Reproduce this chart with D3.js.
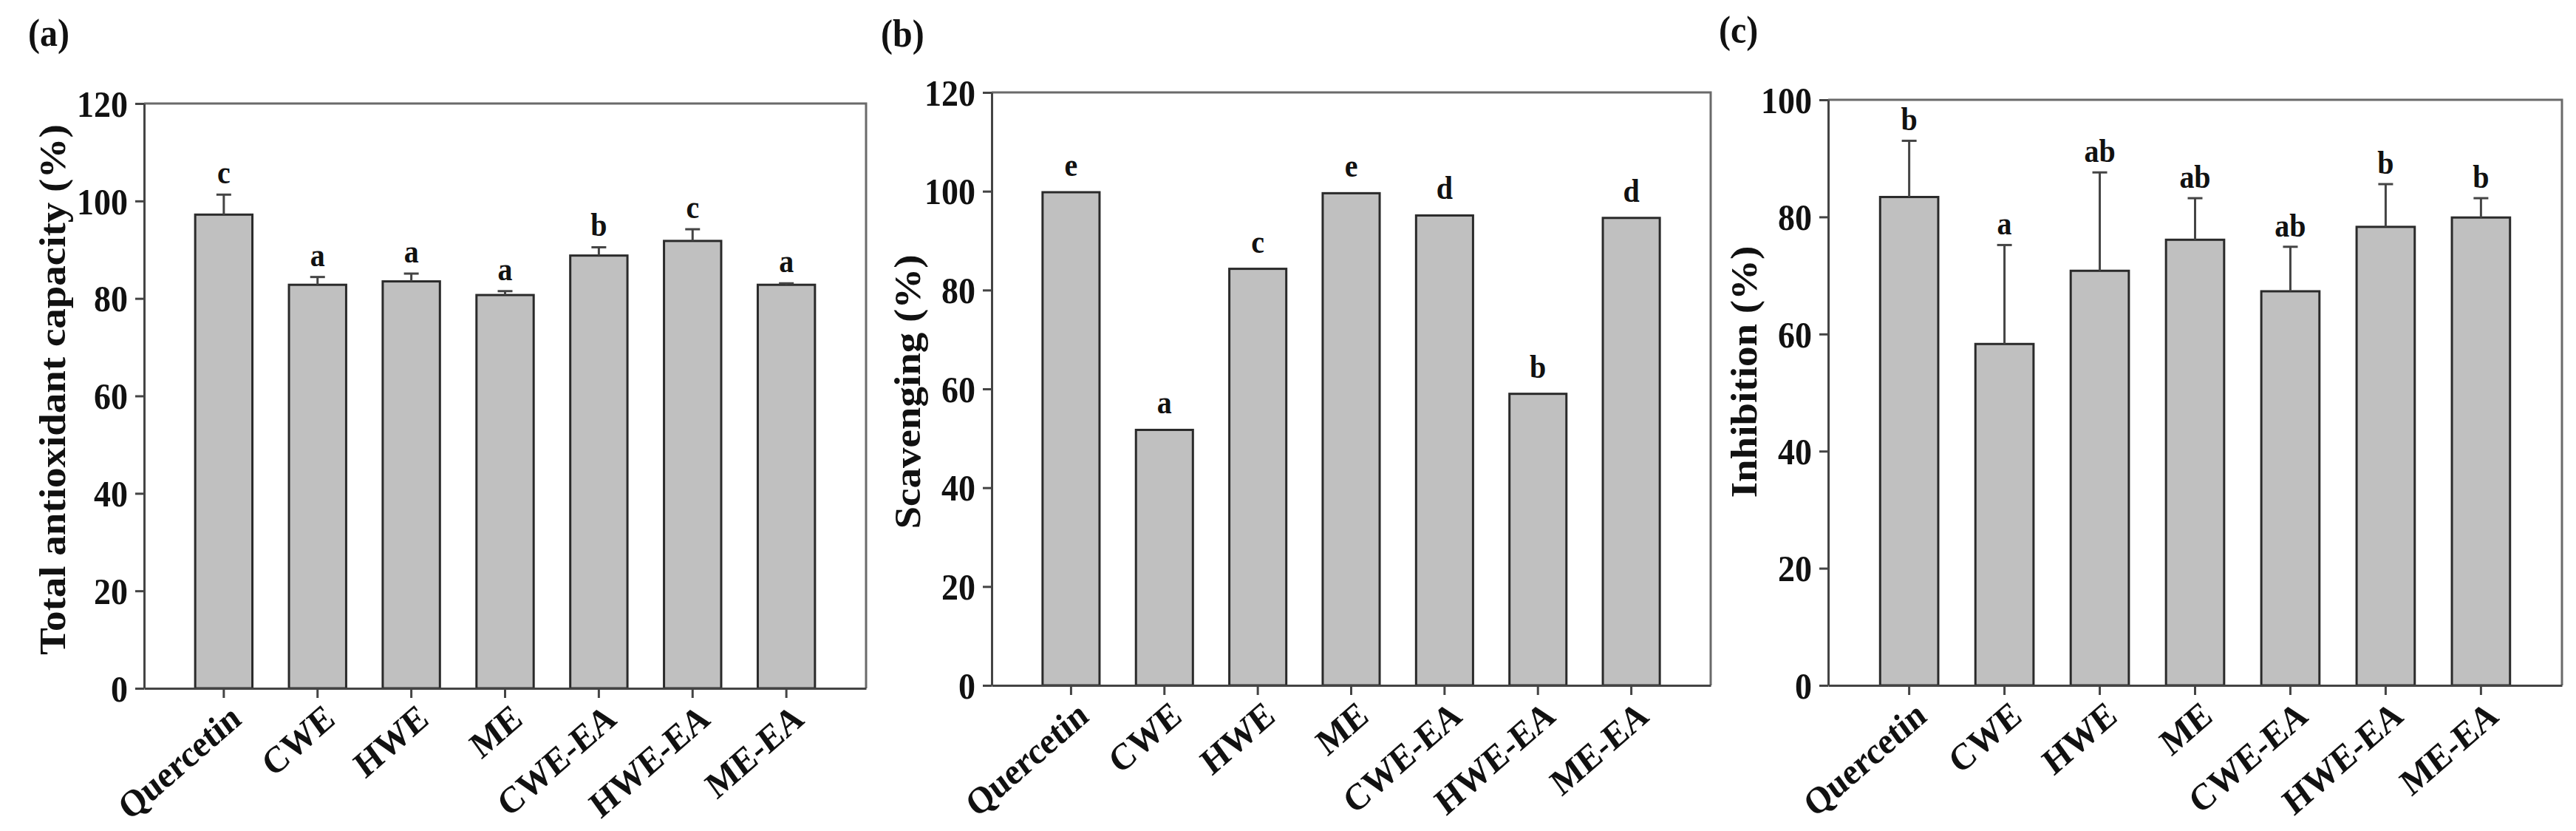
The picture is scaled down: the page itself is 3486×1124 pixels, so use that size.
<!DOCTYPE html>
<html>
<head>
<meta charset="utf-8">
<script src="https://cdn.jsdelivr.net/npm/d3@7"></script>
<style>
    body { margin: 0; background: #fff; }
    text { font-family: "Liberation Serif", "Times New Roman", serif; font-weight: bold; fill: #111; }
</style>
</head>
<body>
<div id="chart"></div>
<script>
// categories shared by all three panels
var categories = ["Quercetin", "CWE", "HWE", "ME", "CWE-EA", "HWE-EA", "ME-EA"];

// (a) total antioxidant capacity
var tacValues = [97.2, 82.8, 83.5, 80.7, 88.8, 91.8, 82.8];
var tacErrors = [4.1, 1.6, 1.6, 0.8, 1.7, 2.4, 0.3];
var tacLetters = ["c", "a", "a", "a", "b", "c", "a"];
var tacTicks = [0, 20, 40, 60, 80, 100, 120];

// (b) scavenging
var scavValues = [99.8, 51.7, 84.3, 99.6, 95.1, 59.0, 94.6];
var scavErrors = [0, 0, 0, 0, 0, 0, 0];
var scavLetters = ["e", "a", "c", "e", "d", "b", "d"];
var scavTicks = [0, 20, 40, 60, 80, 100, 120];

// (c) inhibition
var inhibValues = [83.4, 58.3, 70.8, 76.1, 67.3, 78.3, 79.9];
var inhibErrors = [9.6, 16.9, 16.8, 7.1, 7.6, 7.3, 3.3];
var inhibLetters = ["b", "a", "ab", "ab", "ab", "b", "b"];
var inhibTicks = [0, 20, 40, 60, 80, 100];

var svg = d3.select("#chart")
    .append("svg")
    .attr("width", 3486)
    .attr("height", 1124);

/**
 * render one bar panel with error bars and significance letters
 */
function renderPanel(cfg) {
    var data = categories.map(function (c, i) {
        return {name: c, value: cfg.values[i], err: cfg.errors[i], letter: cfg.letters[i]};
    });

    var x = d3.scaleBand()
        .domain(categories)
        .range([cfg.left, cfg.right])
        .paddingInner(0.39)
        .paddingOuter(0.545);

    var y = d3.scaleLinear()
        .domain([0, d3.max(cfg.ticks)])
        .range([cfg.bottom, cfg.top]);

    var g = svg.append("g");

    // top and right frame
    g.append("path")
        .attr("d", "M" + cfg.left + "," + cfg.top + "H" + cfg.right + "V" + cfg.bottom)
        .attr("fill", "none")
        .attr("stroke", "#6a6a6a")
        .attr("stroke-width", 3);

    // bars
    g.selectAll(".bar")
        .data(data)
        .enter().append("rect")
        .attr("class", "bar")
        .attr("x", function (d) { return x(d.name); })
        .attr("y", function (d) { return y(d.value); })
        .attr("width", x.bandwidth())
        .attr("height", function (d) { return y(0) - y(d.value); })
        .attr("fill", "#c0c0c0")
        .attr("stroke", "#2a2a2a")
        .attr("stroke-width", 3);

    // error bars (upper half only)
    var eb = g.selectAll(".err")
        .data(data.filter(function (d) { return d.err > 0; }))
        .enter().append("g")
        .attr("class", "err");
    eb.append("line")
        .attr("x1", function (d) { return x(d.name) + x.bandwidth() / 2; })
        .attr("x2", function (d) { return x(d.name) + x.bandwidth() / 2; })
        .attr("y1", function (d) { return y(d.value); })
        .attr("y2", function (d) { return y(d.value + d.err); })
        .attr("stroke", "#444")
        .attr("stroke-width", 3);
    eb.append("line")
        .attr("x1", function (d) { return x(d.name) + x.bandwidth() / 2 - 10; })
        .attr("x2", function (d) { return x(d.name) + x.bandwidth() / 2 + 10; })
        .attr("y1", function (d) { return y(d.value + d.err); })
        .attr("y2", function (d) { return y(d.value + d.err); })
        .attr("stroke", "#444")
        .attr("stroke-width", 3);

    // letters
    g.selectAll(".letter")
        .data(data)
        .enter().append("text")
        .attr("class", "letter")
        .attr("text-anchor", "middle")
        .attr("font-size", 40)
        .attr("transform", function (d) {
            return "translate(" + (x(d.name) + x.bandwidth() / 2) + "," + (y(d.value + d.err) - cfg.letterGap) + ") scale(1,1.1)";
        })
        .text(function (d) { return d.letter; });

    // Y axis
    var yAxis = g.append("g")
        .attr("transform", "translate(" + cfg.left + ",0)")
        .call(d3.axisLeft(y).tickValues(cfg.ticks).tickSize(12).tickSizeOuter(0).tickPadding(10));
    yAxis.selectAll("text")
        .attr("font-size", 46)
        .attr("transform", "scale(1,1.1)")
        .attr("dy", "0.34em");

    // X axis
    var xAxis = g.append("g")
        .attr("transform", "translate(0," + cfg.bottom + ")")
        .call(d3.axisBottom(x).tickSize(13).tickSizeOuter(0));
    xAxis.selectAll("text")
        .attr("font-size", 46)
        .attr("text-anchor", "end")
        .attr("y", null)
        .attr("dy", null)
        .attr("transform", "translate(26,46) scale(1,1.1) rotate(-38.5)");

    g.selectAll(".domain, .tick line")
        .attr("stroke", "#444")
        .attr("stroke-width", 3);

    // axis title
    g.append("text")
        .attr("text-anchor", "middle")
        .attr("font-size", 50)
        .attr("transform", "translate(" + cfg.titleX + "," + cfg.titleY + ") rotate(-90) scale(1.1,1)")
        .text(cfg.title);

    // panel label
    g.append("text")
        .attr("font-size", 48)
        .attr("transform", "translate(" + cfg.labelX + "," + cfg.labelY + ") scale(1,1.1)")
        .text(cfg.label);
}

renderPanel({
    values: tacValues, errors: tacErrors, letters: tacLetters, ticks: tacTicks,
    left: 195, right: 1172, top: 140, bottom: 931, letterGap: 15,
    title: "Total antioxidant capacity (%)", titleX: 88, titleY: 527,
    label: "(a)", labelX: 38, labelY: 62
});

renderPanel({
    values: scavValues, errors: scavErrors, letters: scavLetters, ticks: scavTicks,
    left: 1342, right: 2315, top: 125, bottom: 927, letterGap: 22,
    title: "Scavenging (%)", titleX: 1245, titleY: 530,
    label: "(b)", labelX: 1192, labelY: 63
});

renderPanel({
    values: inhibValues, errors: inhibErrors, letters: inhibLetters, ticks: inhibTicks,
    left: 2474, right: 3467, top: 135, bottom: 927, letterGap: 14,
    title: "Inhibition (%)", titleX: 2377, titleY: 503,
    label: "(c)", labelX: 2326, labelY: 58
});
</script>
</body>
</html>
